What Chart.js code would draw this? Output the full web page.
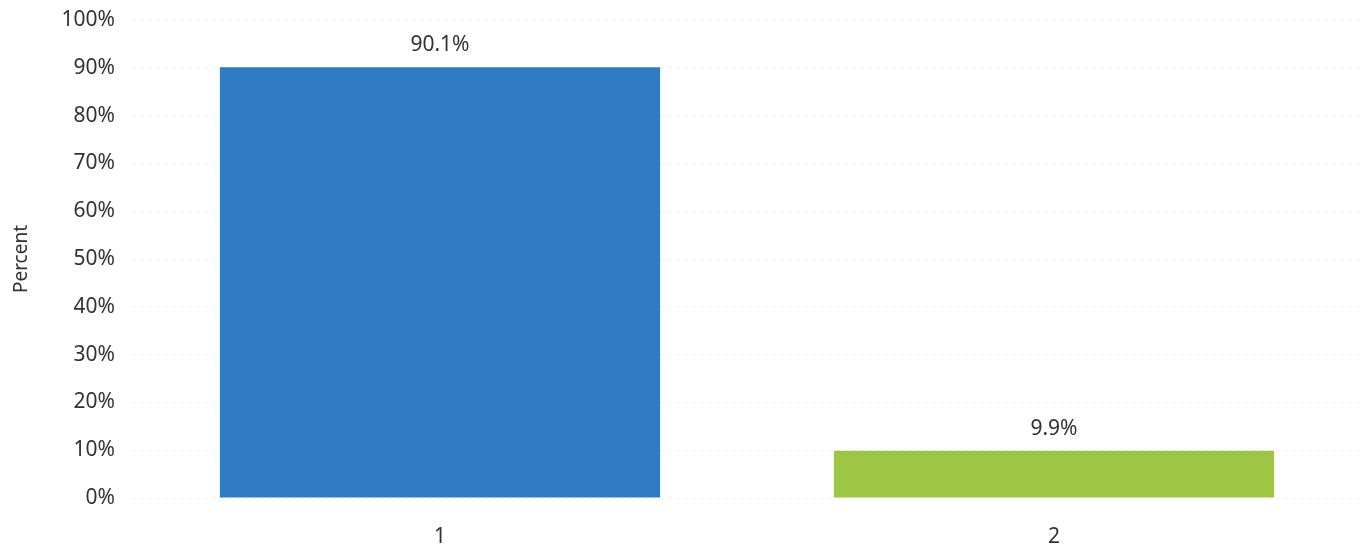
<!DOCTYPE html>
<html><head><meta charset="utf-8">
<script src="https://cdn.jsdelivr.net/npm/chart.js@4/dist/chart.umd.min.js"></script>
<style>html,body{margin:0;padding:0;background:#fff}#w{width:1364px;height:549px}</style>
</head><body><div id="w"><canvas id="c"></canvas></div>
<script>
const categories = ["1", "2"];
const values = [90.1, 9.9];
const barColors = ["#2F7CC5", "#9EC645"];
const yTicks = [0,10,20,30,40,50,60,70,80,90,100];
const FONT = "'Noto Sans', sans-serif";

const labelPlugin = {
  id: 'vals',
  afterDatasetsDraw(chart) {
    const ctx = chart.ctx;
    const meta = chart.getDatasetMeta(0);
    ctx.save();
    ctx.font = "21px " + FONT;
    ctx.fillStyle = "#333";
    ctx.textAlign = "center";
    ctx.textBaseline = "middle";
    meta.data.forEach((el, i) => {
      ctx.fillText(values[i].toFixed(1) + "%", el.x, el.y - 22);
    });
    ctx.restore();
  }
};

new Chart(document.getElementById('c'), {
  type: 'bar',
  data: { labels: categories, datasets: [{ data: values, backgroundColor: barColors, barPercentage: 0.717, categoryPercentage: 1 }] },
  options: {
    responsive: true, maintainAspectRatio: false, animation: false,
    layout: { padding: { top: 20, right: 3, left: 0, bottom: 0 } },
    plugins: { legend: { display: false }, tooltip: { enabled: false } },
    scales: {
      x: {
        grid: { display: false, drawTicks: false },
        border: { display: false },
        ticks: { color: "#333", font: { family: FONT, size: 21 }, padding: 26 },
        afterFit: s => { s.height = 51; s.paddingLeft = 0; s.paddingRight = 0; }
      },
      y: {
        min: 0, max: 100,
        afterBuildTicks: s => { s.ticks = yTicks.map(v => ({ value: v })); },
        grid: { color: "#f1f1f1", drawTicks: false },
        border: { display: false, dash: [3, 5] },
        ticks: { color: "#333", font: { family: FONT, size: 21 }, padding: 18, callback: v => v + "%" },
        title: { display: true, text: "Percent", color: "#333", font: { family: FONT, size: 19 }, padding: { top: 10, bottom: 0 } },
        afterFit: s => { s.width = 133; s.paddingTop = 0; s.paddingBottom = 0; }
      }
    }
  },
  plugins: [labelPlugin]
});
</script></body></html>
